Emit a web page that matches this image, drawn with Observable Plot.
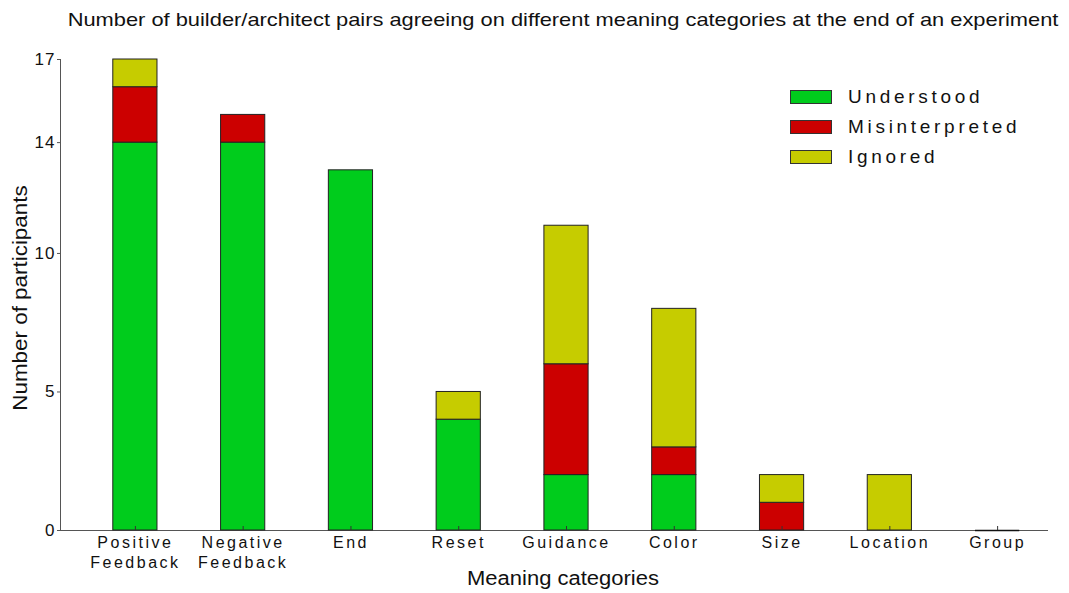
<!DOCTYPE html>
<html><head><meta charset="utf-8">
<script src="https://cdn.jsdelivr.net/npm/d3@7"></script>
<script src="https://cdn.jsdelivr.net/npm/@observablehq/plot@0.6"></script>
<style>
body{margin:0;background:#fff;font-family:"Liberation Sans",Arial,sans-serif;color:#111;}
#wrap{position:relative;width:1069px;height:593px;overflow:hidden;}
#title{position:absolute;top:9px;left:563px;transform:translateX(-50%) scaleX(1.15);font-size:19px;white-space:nowrap;}
#xlabel{position:absolute;top:567px;left:563px;transform:translateX(-50%) scaleX(1.1);font-size:20px;white-space:nowrap;}
#ylabel{position:absolute;left:20px;top:298px;transform:translate(-50%,-50%) rotate(-90deg) scaleX(1.12);font-size:20px;white-space:nowrap;}
#legend{position:absolute;left:790px;top:82px;}
.li{display:flex;align-items:center;height:30px;font-size:19px;letter-spacing:3.7px;}
.sw{width:40px;height:12px;border:1px solid #333;margin-right:16px;}
g[aria-label="x-axis tick label"] text{letter-spacing:2.5px;}
g[aria-label="y-axis tick label"] text{letter-spacing:1px;}
</style>
</head><body>
<div id="wrap">
<div id="title">Number of builder/architect pairs agreeing on different meaning categories at the end of an experiment</div>
<div id="xlabel">Meaning categories</div>
<div id="ylabel">Number of participants</div>
<div id="legend"></div>
</div>
<script>
const categories = ["Positive\nFeedback","Negative\nFeedback","End","Reset","Guidance","Color","Size","Location","Group"];
const series = ["Understood","Misinterpreted","Ignored"];
const colors = ["#00cc1c","#cc0000","#c6cc00"];
const understood =     [14,14,13,4,2,2,0,0,0];
const misinterpreted = [ 2, 1, 0,0,4,1,1,0,0];
const ignored =        [ 1, 0, 0,1,5,5,1,2,0];
const yTicks = [0,5,10,14,17];

const valuesBySeries = [understood, misinterpreted, ignored];
const rows = [];
series.forEach((s, si) => categories.forEach((c, ci) => rows.push({category: c, series: s, value: valuesBySeries[si][ci]})));
const emptyCats = categories.filter((c, ci) => valuesBySeries.every(v => v[ci] === 0));

const chart = Plot.plot({
  width: 1069, height: 593,
  marginLeft: 60, marginRight: 21, marginTop: 59, marginBottom: 63,
  style: {fontFamily: "Liberation Sans, Arial, sans-serif", fontSize: "16px", color: "#111", background: "transparent"},
  x: {domain: categories, range: [81, 1051], paddingInner: 0.59, paddingOuter: 0.295, round: false, label: null, axis: null},
  y: {domain: [0, 17], label: null, axis: null},
  color: {domain: series, range: colors},
  marks: [
    Plot.ruleY([0], {stroke: "#555"}),
    Plot.ruleX([null], {x: null, dx: -494, stroke: "#555"}),
    Plot.barY(rows, Plot.stackY({order: series, x: "category", y: "value", fill: "series", stroke: "#222", strokeWidth: 1})),
    Plot.tickY(emptyCats, {x: d => d, y: 0, stroke: "#111", strokeWidth: 1.5}),
    Plot.axisY({ticks: yTicks, tickSize: 3, tickPadding: 2, fontSize: 17, label: null, stroke: "#555"}),
    Plot.axisX({tickSize: -4, fill: "none", label: null, stroke: "#333"}),
    Plot.axisX({tickSize: 0, tickPadding: 3, fontSize: 16, lineHeight: 1.25, label: null})
  ]
});
document.getElementById("wrap").prepend(chart);
chart.style.position = "absolute"; chart.style.left = "0"; chart.style.top = "0";

const legend = document.getElementById("legend");
series.forEach((s, i) => {
  const d = document.createElement("div"); d.className = "li";
  d.innerHTML = `<div class="sw" style="background:${colors[i]}"></div><span>${s}</span>`;
  legend.appendChild(d);
});
</script>
</body></html>
